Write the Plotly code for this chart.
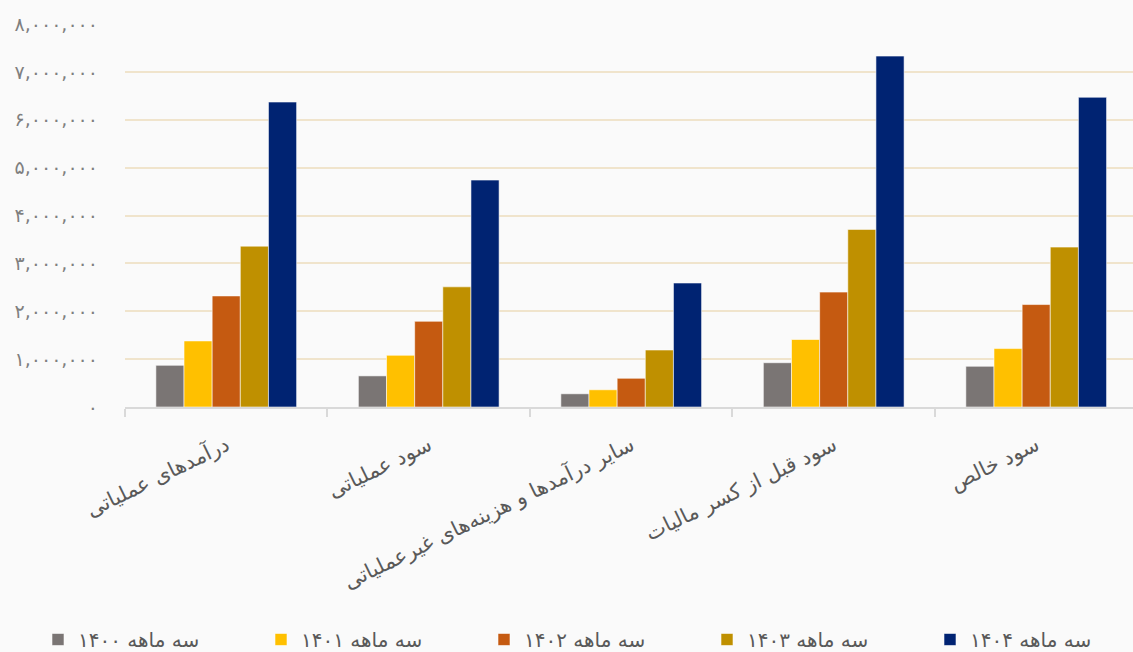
import plotly.graph_objects as go

categories = [
    "درآمدهای عملیاتی",
    "سود عملیاتی",
    "سایر درآمدها و هزینه‌های غیرعملیاتی",
    "سود قبل از کسر مالیات",
    "سود خالص",
]
series_names = ["سه ماهه ۱۴۰۰", "سه ماهه ۱۴۰۱", "سه ماهه ۱۴۰۲", "سه ماهه ۱۴۰۳", "سه ماهه ۱۴۰۴"]
s1400 = [870000, 650000, 276000, 925000, 850000]
s1401 = [1380000, 1080000, 360000, 1410000, 1220000]
s1402 = [2320000, 1790000, 600000, 2400000, 2140000]
s1403 = [3360000, 2510000, 1190000, 3710000, 3340000]
s1404 = [6370000, 4740000, 2590000, 7330000, 6470000]
series_values = [s1400, s1401, s1402, s1403, s1404]
colors = ["#7a7574", "#ffc000", "#c55a11", "#bf9000", "#002372"]

y_tickvals = [0, 1000000, 2000000, 3000000, 4000000, 5000000, 6000000, 7000000, 8000000]
y_ticktext = ["۰", "۱,۰۰۰,۰۰۰", "۲,۰۰۰,۰۰۰", "۳,۰۰۰,۰۰۰", "۴,۰۰۰,۰۰۰",
              "۵,۰۰۰,۰۰۰", "۶,۰۰۰,۰۰۰", "۷,۰۰۰,۰۰۰", "۸,۰۰۰,۰۰۰"]

FONT = "DejaVu Sans"

fig = go.Figure()
for name, vals, col in zip(series_names, series_values, colors):
    fig.add_trace(go.Bar(
        x=categories, y=vals, name=name,
        marker=dict(color=col, line=dict(color="rgba(255,255,255,0.7)", width=0.8)),
    ))

fig.update_layout(
    width=1133, height=652,
    paper_bgcolor="#fafafa", plot_bgcolor="#fafafa",
    margin=dict(l=125, r=0, t=24, b=245, autoexpand=False),
    barmode="group", bargap=0.305, bargroupgap=0,
    font=dict(family=FONT, color="#595959"),
    showlegend=True,
    legend=dict(
        orientation="h", x=-0.0863, xanchor="left", y=-0.607, yanchor="middle",
        font=dict(size=20, color="#595959", family=FONT),
        entrywidth=178, entrywidthmode="pixels",
        traceorder="normal", bgcolor="rgba(0,0,0,0)",
    ),
    xaxis=dict(
        range=[-0.5, 4.478],
        tickangle=-26,
        tickfont=dict(size=21, color="#595959", family=FONT),
        showline=True, linecolor="#d9d9d9", linewidth=2,
        tickson="boundaries", ticks="outside", ticklen=8,
        tickcolor="#d9d9d9", tickwidth=2,
        showgrid=False, zeroline=False,
        ticklabelstandoff=16, automargin=False,
    ),
    yaxis=dict(
        range=[0, 8000000],
        tickvals=y_tickvals, ticktext=y_ticktext,
        tickfont=dict(size=19, color="#7f7f7f", family=FONT),
        showgrid=True, gridcolor="#f0e4cc", gridwidth=1.5,
        zeroline=False, showline=False, ticks="",
        ticklabelstandoff=26, automargin=False,
    ),
)

fig.write_html("out.html", config={"displayModeBar": False},
               post_script="document.body.style.margin='0';")
